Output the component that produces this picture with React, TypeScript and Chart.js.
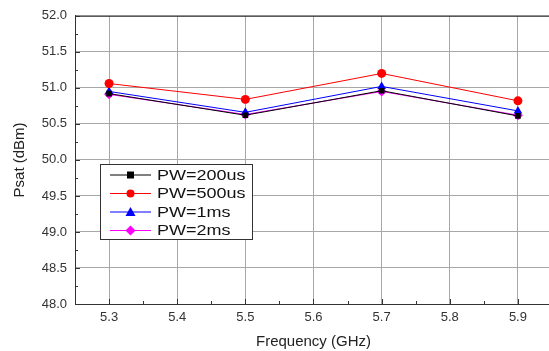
import React, { useEffect, useRef } from "react";
import { Chart, registerables } from "chart.js";

Chart.register(...registerables);

const FREQS = [5.3, 5.5, 5.7, 5.9];
const PW_200US = [50.92, 50.62, 50.96, 50.61];
const PW_500US = [51.06, 50.84, 51.2, 50.82];
const PW_1MS = [50.95, 50.66, 51.02, 50.68];
const PW_2MS = [50.91, 50.63, 50.95, 50.62];
const SERIES_LABELS = ["PW=200us", "PW=500us", "PW=1ms", "PW=2ms"];
const X_TICKS = [5.3, 5.4, 5.5, 5.6, 5.7, 5.8, 5.9];
const X_MINOR = [5.25, 5.35, 5.45, 5.55, 5.65, 5.75, 5.85, 5.95];
const Y_TICKS = [48.0, 48.5, 49.0, 49.5, 50.0, 50.5, 51.0, 51.5, 52.0];
const Y_MINOR = [48.25, 48.75, 49.25, 49.75, 50.25, 50.75, 51.25, 51.75];

const FONT = "Arial, 'Liberation Sans', sans-serif";

const decorPlugin = {
  id: "decor",
  afterDatasetsDraw(chart: any) {
    const ctx = chart.ctx;
    const { left, right, top, bottom } = chart.chartArea;
    const xs = chart.scales.x;
    const ys = chart.scales.y;
    ctx.save();
    ctx.strokeStyle = "#333333";
    ctx.lineWidth = 1;
    ctx.beginPath();
    ctx.moveTo(left, top + 0.5);
    ctx.lineTo(right, top + 0.5);
    ctx.stroke();
    ctx.beginPath();
    X_MINOR.forEach((v) => {
      const px = Math.round(xs.getPixelForValue(v)) + 0.5;
      ctx.moveTo(px, bottom);
      ctx.lineTo(px, bottom - 3);
    });
    X_TICKS.forEach((v) => {
      const px = Math.round(xs.getPixelForValue(v)) + 0.5;
      ctx.moveTo(px, bottom);
      ctx.lineTo(px, bottom - 5);
    });
    Y_MINOR.forEach((v) => {
      const py = Math.round(ys.getPixelForValue(v)) + 0.5;
      ctx.moveTo(left, py);
      ctx.lineTo(left + 3, py);
    });
    Y_TICKS.forEach((v) => {
      const py = Math.round(ys.getPixelForValue(v)) + 0.5;
      ctx.moveTo(left, py);
      ctx.lineTo(left + 5, py);
    });
    ctx.stroke();

    const bx = 100.5, by = 164.5, bw = 152, bh = 75;
    ctx.fillStyle = "#ffffff";
    ctx.fillRect(bx, by, bw, bh);
    ctx.strokeStyle = "#333333";
    ctx.strokeRect(bx, by, bw, bh);
    const rowY = [175, 193.5, 212, 230.5];
    chart.data.datasets.forEach((ds: any, i: number) => {
      const y = rowY[i];
      ctx.strokeStyle = ds.borderColor;
      ctx.lineWidth = 1;
      ctx.beginPath();
      ctx.moveTo(110, y);
      ctx.lineTo(151, y);
      ctx.stroke();
      ctx.fillStyle = ds.backgroundColor;
      ctx.beginPath();
      const s = ds.pointStyle;
      if (s === "rect") {
        ctx.rect(127, y - 3.5, 7, 7);
      } else if (s === "circle") {
        ctx.arc(130.5, y, 4, 0, Math.PI * 2);
      } else if (s === "triangle") {
        ctx.moveTo(130.5, y - 5);
        ctx.lineTo(135.5, y + 4);
        ctx.lineTo(125.5, y + 4);
        ctx.closePath();
      } else {
        ctx.moveTo(130.5, y - 5);
        ctx.lineTo(135.5, y);
        ctx.lineTo(130.5, y + 5);
        ctx.lineTo(125.5, y);
        ctx.closePath();
      }
      ctx.fill();
      ctx.save();
      ctx.translate(157, y + 0.5);
      ctx.scale(1.2, 1);
      ctx.fillStyle = "#111111";
      ctx.font = `15px ${FONT}`;
      ctx.textBaseline = "middle";
      ctx.textAlign = "left";
      ctx.fillText(ds.label, 0, 0);
      ctx.restore();
    });
    ctx.restore();
  },
};

export default function App() {
  const ref = useRef<HTMLCanvasElement>(null);
  useEffect(() => {
    if (!ref.current) return;
    const mk = (label: string, data: number[], color: string, style: string, r: number) => ({
      label,
      data: data.map((y, i) => ({ x: FREQS[i], y })),
      borderColor: color,
      backgroundColor: color,
      borderWidth: 1,
      pointStyle: style,
      pointRadius: r,
      pointHoverRadius: r,
      pointBorderWidth: 0,
      showLine: true,
      tension: 0,
    });
    const chart = new Chart(ref.current, {
      type: "scatter",
      data: {
        datasets: [
          mk(SERIES_LABELS[0], PW_200US, "#000000", "rect", 4),
          mk(SERIES_LABELS[1], PW_500US, "#ff0000", "circle", 4.5),
          mk(SERIES_LABELS[2], PW_1MS, "#0000ff", "triangle", 5),
          mk(SERIES_LABELS[3], PW_2MS, "#ff00ff", "rectRot", 5),
        ] as any,
      },
      options: {
        animation: false,
        responsive: true,
        maintainAspectRatio: false,
        layout: { padding: { top: 12, right: 0, left: 0, bottom: 0 } },
        plugins: { legend: { display: false }, tooltip: { enabled: false } },
        scales: {
          x: {
            type: "linear",
            min: 5.25,
            max: 5.95,
            afterBuildTicks: (s: any) => {
              s.ticks = X_TICKS.map((v) => ({ value: v }));
            },
            afterFit: (s: any) => {
              s.height = 47;
            },
            grid: { color: "#a8a8a8", lineWidth: 1, drawTicks: false },
            border: { color: "#333333", width: 1 },
            ticks: {
              padding: 6,
              color: "#333333",
              font: { family: FONT, size: 13 },
              callback: (v: any) => Number(v).toFixed(1),
            },
            title: {
              display: true,
              text: "Frequency (GHz)",
              color: "#222222",
              font: { family: FONT, size: 15 },
              padding: { top: 3, bottom: 0 },
            },
          },
          y: {
            type: "linear",
            min: 48,
            max: 52,
            afterBuildTicks: (s: any) => {
              s.ticks = Y_TICKS.map((v) => ({ value: v }));
            },
            afterFit: (s: any) => {
              s.width = 75;
            },
            grid: { color: "#a8a8a8", lineWidth: 1, drawTicks: false },
            border: { color: "#333333", width: 1 },
            ticks: {
              padding: 8,
              color: "#333333",
              font: { family: FONT, size: 13 },
              callback: (v: any) => Number(v).toFixed(1),
            },
            title: {
              display: true,
              text: "Psat (dBm)",
              color: "#222222",
              font: { family: FONT, size: 15 },
              padding: { top: 11, bottom: 0 },
            },
          },
        },
      },
      plugins: [decorPlugin],
    } as any);
    return () => chart.destroy();
  }, []);
  return (
    <div style={{ position: "fixed", left: 0, top: 0, width: 557, height: 351, background: "#fff" }}>
      <canvas ref={ref} />
    </div>
  );
}
